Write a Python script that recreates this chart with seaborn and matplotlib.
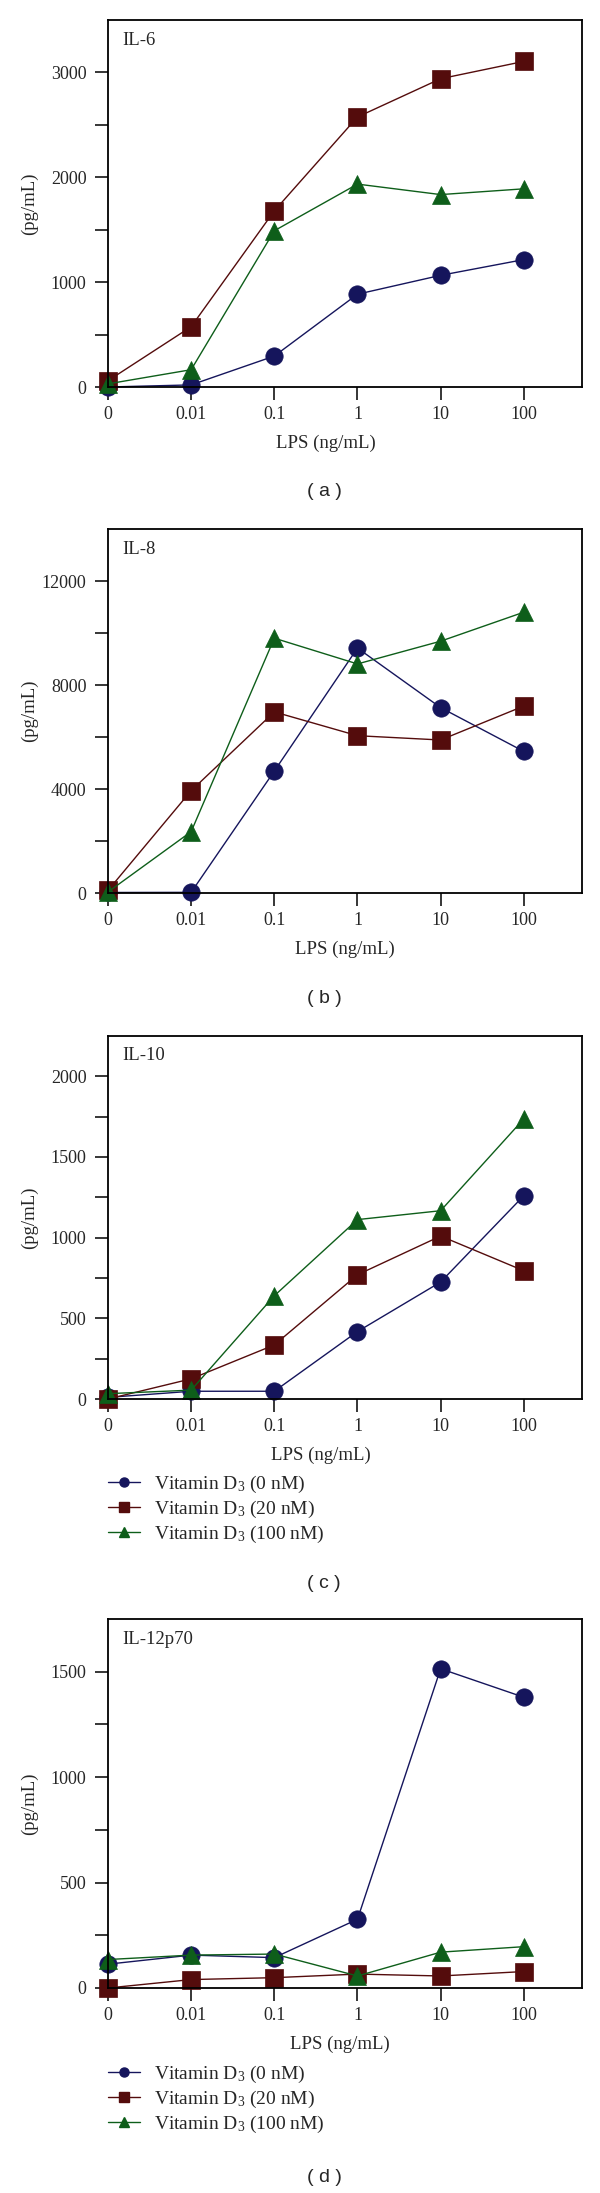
import numpy as np
import pandas as pd
import seaborn as sns
import matplotlib
matplotlib.use("Agg")
import matplotlib.pyplot as plt
from matplotlib.ticker import FixedLocator
from matplotlib.lines import Line2D

# LPS doses (categorical x axis)
doses = ["0", "0.01", "0.1", "1", "10", "100"]

series_names = ["Vitamin D$_3$ (0 nM)", "Vitamin D$_3$ (20 nM)", "Vitamin D$_3$ (100 nM)"]
series_colors = ["#15155c", "#540c0c", "#0e5e1a"]
series_markers = ["o", "s", "^"]

# IL-6
il6_0nm = [0, 20, 295, 885, 1065, 1215]
il6_20nm = [60, 575, 1680, 2575, 2940, 3105]
il6_100nm = [30, 165, 1490, 1935, 1835, 1890]

# IL-8
il8_0nm = [20, 25, 4690, 9420, 7130, 5445]
il8_20nm = [100, 3935, 6965, 6050, 5885, 7190]
il8_100nm = [40, 2360, 9800, 8810, 9685, 10800]

# IL-10
il10_0nm = [10, 48, 48, 418, 725, 1260]
il10_20nm = [0, 125, 335, 770, 1010, 795]
il10_100nm = [33, 55, 640, 1112, 1167, 1736]

# IL-12p70
il12_0nm = [113, 156, 144, 326, 1514, 1379]
il12_20nm = [0, 40, 49, 66, 57, 78]
il12_100nm = [135, 156, 161, 57, 170, 196]

panel_titles = ["IL-6", "IL-8", "IL-10", "IL-12p70"]
panel_captions = ["( a )", "( b )", "( c )", "( d )"]
panel_ylims = [3500, 14000, 2250, 1750]
panel_major = [[0, 1000, 2000, 3000], [0, 4000, 8000, 12000],
               [0, 500, 1000, 1500, 2000], [0, 500, 1000, 1500]]
panel_minor = [[500, 1500, 2500], [2000, 6000, 10000],
               [250, 750, 1250, 1750], [250, 750, 1250]]

sns.set_style("ticks")
plt.rcParams["font.family"] = ["Liberation Serif", "DejaVu Serif"]
plt.rcParams["mathtext.default"] = "regular"

W, H = 600, 2193
fig = plt.figure(figsize=(W / 100, H / 100), dpi=100)

# axes boxes in pixels: (top, bottom)
boxes = [(20, 387), (529, 893), (1036, 1399), (1619, 1988)]
left_px, right_px = 108, 582
caption_y = [492, 998, 1583, 2177]
xlabel_x = [0.46, 0.50, 0.45, 0.49]
marker_sizes = [12.5, 12.5, 13]

data = [
    [il6_0nm, il6_20nm, il6_100nm],
    [il8_0nm, il8_20nm, il8_100nm],
    [il10_0nm, il10_20nm, il10_100nm],
    [il12_0nm, il12_20nm, il12_100nm],
]

positions = np.arange(len(doses))

for i, (top, bottom) in enumerate(boxes):
    ax = fig.add_axes([left_px / W, 1 - bottom / H,
                       (right_px - left_px) / W, (bottom - top) / H])
    for vals, color, marker, ms in zip(data[i], series_colors,
                                       series_markers, marker_sizes):
        df = pd.DataFrame({"pos": positions, "value": vals})
        sns.lineplot(data=df, x="pos", y="value", color=color,
                     marker=marker, markersize=ms, linewidth=1.0,
                     markeredgecolor=color, markeredgewidth=0.5,
                     clip_on=False, ax=ax)

    ax.set_xlim(0, 5.7)
    ax.set_ylim(0, panel_ylims[i])
    ax.set_xticks(positions)
    ax.set_xticklabels(doses)
    ax.yaxis.set_major_locator(FixedLocator(panel_major[i]))
    ax.yaxis.set_minor_locator(FixedLocator(panel_minor[i]))
    ax.tick_params(axis="both", which="both", direction="out", length=9.5,
                   width=1.1, color="black", labelsize=13)
    ax.tick_params(axis="y", which="both", pad=6)
    ax.tick_params(axis="x", pad=4)
    for sp in ax.spines.values():
        sp.set_linewidth(1.3)
        sp.set_color("black")

    ax.set_xlabel("LPS (ng/mL)", fontsize=13.5)
    ax.set_ylabel("(pg/mL)", fontsize=13.5)
    ax.xaxis.set_label_coords(xlabel_x[i], -0.13)
    ax.yaxis.set_label_coords(-0.148, 0.5)

    ax.text(0.03, 0.945, panel_titles[i], transform=ax.transAxes,
            fontsize=13.5, va="center", ha="left")

    if i >= 2:
        handles = [Line2D([0], [0], color=c, marker=m, markersize=6.5,
                          linewidth=1.0, markeredgecolor=c)
                   for c, m in zip(series_colors, series_markers)]
        ax.legend(handles, series_names, loc="upper left",
                  bbox_to_anchor=(0.0, -0.205), frameon=False, fontsize=14,
                  handlelength=1.65, handletextpad=0.72, labelspacing=0.2,
                  borderpad=0, borderaxespad=0)

    fig.text(324 / W, 1 - caption_y[i] / H, panel_captions[i],
             family="Liberation Sans", fontsize=14, ha="center", va="center")

fig.savefig("out.png", dpi=100)
